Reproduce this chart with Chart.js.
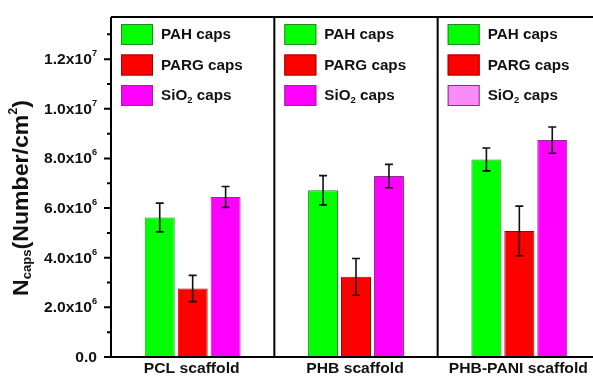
<!DOCTYPE html>
<html><head><meta charset="utf-8">
<script src="https://cdn.jsdelivr.net/npm/chart.js@4.4.1/dist/chart.umd.min.js"></script>
<style>html,body{margin:0;padding:0;overflow:hidden;background:#fff}</style>
</head><body><canvas id="c" width="603" height="376"></canvas>
<script>
const categories = ['PCL scaffold', 'PHB scaffold', 'PHB-PANI scaffold'];
const pahCaps  = [5.62e6, 6.72e6, 7.96e6];
const pahErr   = [0.58e6, 0.59e6, 0.46e6];
const pargCaps = [2.76e6, 3.23e6, 5.08e6];
const pargErr  = [0.53e6, 0.74e6, 1.00e6];
const sio2Caps = [6.45e6, 7.29e6, 8.74e6];
const sio2Err  = [0.42e6, 0.47e6, 0.53e6];
const yTickValues   = [0, 2e6, 4e6, 6e6, 8e6, 1e7, 1.2e7];
const yTickMantissa = ['0.0', '2.0x10', '4.0x10', '6.0x10', '8.0x10', '1.0x10', '1.2x10'];
const yTickExponent = ['', '6', '6', '6', '6', '7', '7'];
const yMinorValues  = [1e6, 3e6, 5e6, 7e6, 9e6, 1.1e7, 1.3e7];
const seriesLabels  = ['PAH caps', 'PARG caps', 'SiO2 caps'];
const errors = [pahErr, pargErr, sio2Err];

const FONT = '"Liberation Sans", Arial, sans-serif';
const fills = ['#00ff00', '#ff0000', '#ff00ff'];
const borders = ['#1e8c1e', '#a00000', '#8c2c8c'];

function drawParts(ctx, parts, x, y, align, stretch) {
  stretch = stretch || 1;
  let total = 0;
  parts.forEach(p => { ctx.font = 'bold ' + p.size + 'px ' + FONT; p.w = ctx.measureText(p.t).width * stretch; total += p.w; });
  let cx = align === 'right' ? x - total : align === 'center' ? x - total / 2 : x;
  parts.forEach(p => {
    ctx.font = 'bold ' + p.size + 'px ' + FONT;
    ctx.save();
    ctx.translate(cx, y + (p.dy || 0));
    ctx.scale(stretch, 1);
    ctx.fillText(p.t, 0, 0);
    ctx.restore();
    cx += p.w;
  });
}

const deco = {
  id: 'deco',
  afterDatasetsDraw(chart) {
    const ctx = chart.ctx, a = chart.chartArea, xs = chart.scales.x, ys = chart.scales.y;
    ctx.save();
    // error bars
    ctx.strokeStyle = '#111';
    ctx.lineWidth = 1.6;
    chart.data.datasets.forEach((ds, di) => {
      const meta = chart.getDatasetMeta(di);
      meta.data.forEach((bar, i) => {
        const v = ds.data[i], e = errors[di][i];
        const yt = ys.getPixelForValue(v + e), yb = ys.getPixelForValue(v - e);
        ctx.beginPath();
        ctx.moveTo(bar.x, yt); ctx.lineTo(bar.x, yb);
        ctx.moveTo(bar.x - 4, yt); ctx.lineTo(bar.x + 4, yt);
        ctx.moveTo(bar.x - 4, yb); ctx.lineTo(bar.x + 4, yb);
        ctx.stroke();
      });
    });
    // frame
    ctx.strokeStyle = '#000';
    ctx.lineWidth = 2;
    ctx.beginPath();
    ctx.moveTo(a.left, a.top); ctx.lineTo(a.right, a.top);
    ctx.moveTo(a.left, a.top); ctx.lineTo(a.left, a.bottom);
    ctx.moveTo(a.left - 1, a.bottom); ctx.lineTo(a.right, a.bottom);
    const half = (xs.getPixelForValue(1) - xs.getPixelForValue(0)) / 2;
    for (let i = 1; i < categories.length; i++) {
      const xp = xs.getPixelForValue(i) - half;
      ctx.moveTo(xp, a.top); ctx.lineTo(xp, a.bottom);
    }
    // y ticks
    yTickValues.forEach(v => { const yp = ys.getPixelForValue(v); ctx.moveTo(a.left - 7, yp); ctx.lineTo(a.left, yp); });
    yMinorValues.forEach(v => { const yp = ys.getPixelForValue(v); ctx.moveTo(a.left - 4, yp); ctx.lineTo(a.left, yp); });
    ctx.stroke();
    // y tick labels
    ctx.fillStyle = '#111';
    ctx.textBaseline = 'middle';
    yTickValues.forEach((v, i) => {
      const yp = ys.getPixelForValue(v);
      const parts = [{ t: yTickMantissa[i], size: 14.5 }];
      if (yTickExponent[i]) parts.push({ t: yTickExponent[i], size: 8.5, dy: -6.5 });
      drawParts(ctx, parts, a.left - 14, yp + 1, 'right', 1.08);
    });
    // x labels
    categories.forEach((c, i) => {
      drawParts(ctx, [{ t: c, size: 14 }], xs.getPixelForValue(i) - 1, a.bottom + 12, 'center', 1.12);
    });
    // y axis title
    ctx.save();
    ctx.translate(22, 198);
    ctx.rotate(-Math.PI / 2);
    drawParts(ctx, [
      { t: 'N', size: 22 },
      { t: 'caps', size: 12.5, dy: 6 },
      { t: '(Number/cm', size: 22 },
      { t: '2', size: 12, dy: -8 },
      { t: ')', size: 22 }
    ], 0, 0, 'center', 1.05);
    ctx.restore();
    // legends
    for (let p = 0; p < categories.length; p++) {
      const left = xs.getPixelForValue(p) - half;
      const sx = left + 10;
      chart.data.datasets.forEach((ds, di) => {
        const sy = a.top + 7 + di * 30.5;
        ctx.fillStyle = (p === 2 && di === 2) ? '#f98cf6' : fills[di];
        ctx.fillRect(sx, sy, 32, 21);
        ctx.strokeStyle = borders[di];
        ctx.lineWidth = 1;
        ctx.strokeRect(sx + 0.5, sy + 0.5, 31, 20);
        ctx.fillStyle = '#111';
        const ty = sy + 11;
        if (di === 2) {
          drawParts(ctx, [{ t: 'SiO', size: 14.5 }, { t: '2', size: 9, dy: 5 }, { t: ' caps', size: 14.5 }], sx + 40, ty, 'left', 1.05);
        } else {
          drawParts(ctx, [{ t: ds.label, size: 14.5 }], sx + 40, ty, 'left', 1.05);
        }
      });
    }
    ctx.restore();
  }
};

new Chart(document.getElementById('c'), {
  type: 'bar',
  data: {
    labels: categories,
    datasets: [
      { label: seriesLabels[0], data: pahCaps,  backgroundColor: fills[0], borderColor: borders[0], borderWidth: 1 },
      { label: seriesLabels[1], data: pargCaps, backgroundColor: fills[1], borderColor: borders[1], borderWidth: 1 },
      { label: seriesLabels[2], data: sio2Caps, backgroundColor: fills[2], borderColor: borders[2], borderWidth: 1 }
    ]
  },
  options: {
    responsive: false,
    animation: false,
    devicePixelRatio: 1,
    layout: { padding: { left: 111, right: 2, top: 17, bottom: 19 } },
    categoryPercentage: 0.605,
    barPercentage: 0.91,
    plugins: { legend: { display: false }, tooltip: { enabled: false } },
    scales: {
      x: { display: false },
      y: { display: false, min: 0, max: 1.37e7 }
    }
  },
  plugins: [deco]
});
</script>
</body></html>
